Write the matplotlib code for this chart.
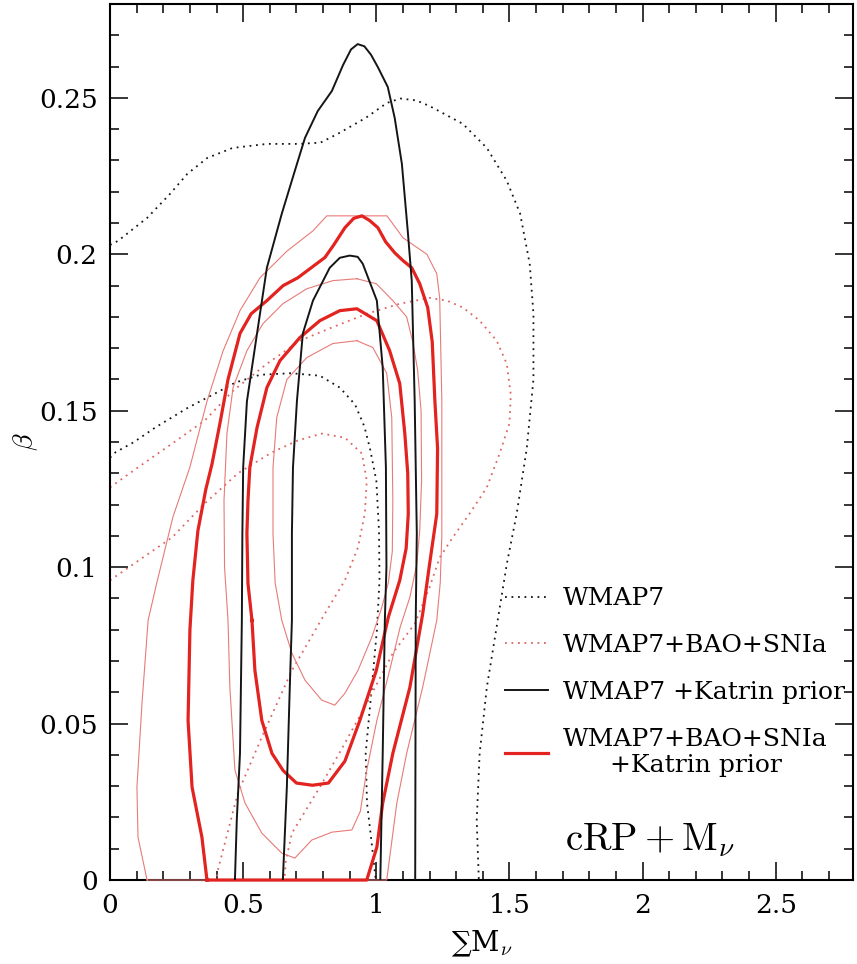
"""Confidence contours: beta vs sum of neutrino masses."""
import matplotlib
matplotlib.use('Agg')
import matplotlib.pyplot as plt
from matplotlib.ticker import MultipleLocator

plt.rcParams['font.family'] = ['DejaVu Serif']
plt.rcParams['mathtext.fontset'] = 'cm'

# contour traces, (sum M_nu, beta)
wmap7_outer = [(0.0, 0.203), (0.03, 0.2043), (0.14, 0.2117), (0.225, 0.2193), (0.29, 0.2257),
               (0.365, 0.2308), (0.46, 0.234), (0.59, 0.2353), (0.71, 0.2353), (0.79, 0.2357),
               (0.855, 0.2385), (0.96, 0.2436), (1.04, 0.2484), (1.09, 0.2498), (1.15, 0.2492),
               (1.2, 0.2474), (1.325, 0.2417), (1.415, 0.234), (1.49, 0.2235), (1.54, 0.213),
               (1.576, 0.197), (1.59, 0.181), (1.59, 0.16), (1.565, 0.138), (1.527, 0.117),
               (1.49, 0.101), (1.452, 0.081), (1.415, 0.0616), (1.388, 0.0405), (1.377, 0.019),
               (1.385, 0.0)]
wmap7_inner = [(0.0, 0.135), (0.02, 0.1367), (0.09, 0.14), (0.169, 0.1446), (0.293, 0.151),
               (0.394, 0.1555), (0.47, 0.159), (0.563, 0.1615), (0.68, 0.162), (0.788, 0.1612),
               (0.863, 0.1574), (0.92, 0.152), (0.955, 0.145), (0.976, 0.138), (1.0, 0.1277),
               (1.01, 0.1117), (1.012, 0.0958), (1.002, 0.0798), (0.983, 0.0616), (0.96, 0.0405),
               (0.965, 0.0246), (0.98, 0.0137), (0.998, 0.0)]

bao_outer = [(0.0, 0.1255), (0.105, 0.1319), (0.233, 0.1395), (0.356, 0.1469), (0.462, 0.1564),
             (0.589, 0.165), (0.713, 0.1724), (0.83, 0.1765), (0.964, 0.181), (1.088, 0.1842),
             (1.2, 0.1861), (1.265, 0.1852), (1.325, 0.183), (1.388, 0.1788), (1.452, 0.1724),
             (1.49, 0.165), (1.505, 0.155), (1.5, 0.146), (1.463, 0.1363), (1.415, 0.1255),
             (1.351, 0.1172), (1.287, 0.1095), (1.238, 0.1031), (1.2, 0.0936), (1.145, 0.082),
             (1.062, 0.0725), (0.964, 0.0565), (0.874, 0.0425), (0.788, 0.0297), (0.713, 0.0192),
             (0.683, 0.015), (0.66, 0.006), (0.655, 0.0)]
bao_inner = [(0.0, 0.0958), (0.105, 0.102), (0.233, 0.1095), (0.356, 0.1204), (0.48, 0.13),
             (0.608, 0.1367), (0.705, 0.1405), (0.795, 0.1427), (0.882, 0.1414), (0.946, 0.1363),
             (0.964, 0.1277), (0.957, 0.1172), (0.931, 0.1063), (0.882, 0.0958), (0.807, 0.0852),
             (0.683, 0.067), (0.57, 0.0457), (0.48, 0.0278), (0.405, 0.0032), (0.4, 0.0)]

katrin_outer = [(0.469, 0.0), (0.476, 0.0192), (0.488, 0.0405), (0.495, 0.083), (0.497, 0.111),
                (0.5, 0.132), (0.514, 0.153), (0.552, 0.1747), (0.589, 0.1957), (0.645, 0.213),
                (0.694, 0.2267), (0.732, 0.2372), (0.78, 0.2458), (0.833, 0.2522), (0.875, 0.2605),
                (0.905, 0.2655), (0.93, 0.2672), (0.955, 0.2665), (0.98, 0.2638), (1.006, 0.2598),
                (1.043, 0.2535), (1.069, 0.2436), (1.096, 0.2289), (1.118, 0.2075), (1.133, 0.1916),
                (1.144, 0.1533), (1.152, 0.1108), (1.148, 0.083), (1.146, 0.0)]
katrin_inner = [(0.649, 0.0), (0.664, 0.0297), (0.675, 0.0616), (0.683, 0.083), (0.683, 0.1108),
                (0.687, 0.1319), (0.702, 0.1533), (0.724, 0.1747), (0.762, 0.1852), (0.825, 0.1957),
                (0.863, 0.1989), (0.9, 0.1996), (0.93, 0.1992), (0.949, 0.197), (1.002, 0.1852),
                (1.024, 0.1638), (1.036, 0.1319), (1.038, 0.1), (1.032, 0.083), (1.024, 0.0405),
                (1.015, 0.0)]

# WMAP7+BAO+SNIa+Katrin: thick = main levels, thin = extra levels
all_thick_outer = [(0.364, 0.0), (0.345, 0.0137), (0.308, 0.0297), (0.293, 0.051), (0.3, 0.08),
                   (0.311, 0.0958), (0.33, 0.1117), (0.36, 0.125), (0.383, 0.133), (0.415, 0.147),
                   (0.443, 0.16), (0.488, 0.1747), (0.53, 0.181), (0.589, 0.1852), (0.65, 0.19),
                   (0.705, 0.1925), (0.76, 0.196), (0.807, 0.199), (0.84, 0.203), (0.882, 0.2085),
                   (0.915, 0.2115), (0.946, 0.2123), (0.975, 0.2108), (1.006, 0.2085), (1.035, 0.204),
                   (1.069, 0.2005), (1.1, 0.198), (1.133, 0.1957), (1.163, 0.1906), (1.193, 0.183),
                   (1.21, 0.172), (1.22, 0.153), (1.23, 0.138), (1.227, 0.117), (1.2, 0.101),
                   (1.174, 0.085), (1.126, 0.0616), (1.062, 0.0405), (1.024, 0.0246), (1.002, 0.0105),
                   (0.964, 0.0)]
all_thick_inner = [(0.533, 0.083), (0.518, 0.0948), (0.514, 0.1108), (0.518, 0.1213), (0.525, 0.1319),
                   (0.552, 0.1446), (0.589, 0.1574), (0.638, 0.166), (0.713, 0.1734), (0.788, 0.1788),
                   (0.863, 0.182), (0.927, 0.1826), (1.002, 0.1788), (1.05, 0.1692), (1.088, 0.1587),
                   (1.107, 0.1427), (1.118, 0.13), (1.12, 0.117), (1.112, 0.106), (1.088, 0.0958),
                   (1.045, 0.084), (1.0, 0.067), (0.938, 0.051), (0.882, 0.038), (0.82, 0.031),
                   (0.76, 0.0303), (0.7, 0.031), (0.65, 0.035), (0.608, 0.0405), (0.57, 0.051),
                   (0.544, 0.067)]
all_thin_1 = [(0.139, 0.0), (0.105, 0.0137), (0.101, 0.0297), (0.12, 0.0565), (0.143, 0.083),
              (0.175, 0.0948), (0.236, 0.116), (0.3, 0.132), (0.364, 0.153), (0.424, 0.169),
              (0.488, 0.182), (0.563, 0.1925), (0.664, 0.201), (0.762, 0.2075), (0.814, 0.2123),
              (1.04, 0.2123), (1.1, 0.2053), (1.19, 0.2), (1.227, 0.1938), (1.238, 0.186),
              (1.246, 0.1533), (1.246, 0.11), (1.24, 0.095), (1.227, 0.083), (1.174, 0.0616),
              (1.114, 0.0405), (1.077, 0.0246), (1.039, 0.0)]
all_thin_2 = [(0.927, 0.1922), (0.837, 0.1916), (0.739, 0.189), (0.649, 0.1842), (0.574, 0.1778),
              (0.514, 0.1692), (0.462, 0.1574), (0.439, 0.1427), (0.428, 0.1213), (0.43, 0.1),
              (0.443, 0.083), (0.45, 0.0616), (0.469, 0.0351), (0.507, 0.0246), (0.57, 0.015),
              (0.645, 0.0086), (0.694, 0.007), (0.758, 0.0128), (0.833, 0.0153), (0.908, 0.016),
              (0.94, 0.022), (0.964, 0.0351), (1.002, 0.051), (1.05, 0.067), (1.09, 0.081),
              (1.126, 0.0904), (1.152, 0.101), (1.163, 0.1117), (1.17, 0.1277), (1.168, 0.15),
              (1.155, 0.163), (1.137, 0.172), (1.114, 0.18), (1.062, 0.1852), (1.0, 0.1906)]
all_thin_3 = [(0.927, 0.1724), (0.837, 0.1715), (0.739, 0.167), (0.664, 0.16), (0.626, 0.1478),
              (0.612, 0.1319), (0.612, 0.1108), (0.62, 0.095), (0.645, 0.083), (0.683, 0.0725),
              (0.732, 0.0639), (0.795, 0.0575), (0.844, 0.0559), (0.882, 0.0597), (0.931, 0.067),
              (0.983, 0.0776), (1.02, 0.087), (1.045, 0.095), (1.06, 0.105), (1.062, 0.1213),
              (1.058, 0.1478), (1.039, 0.162), (0.987, 0.1702)]

labels = ["WMAP7", "WMAP7+BAO+SNIa", "WMAP7 +Katrin prior", "WMAP7+BAO+SNIa\n+Katrin prior"]

BLACK = '#151515'
RED = '#e2231f'
RED_THIN = '#e77b78'
RED_DOT = '#dc6562'
DOTS = (0, (1, 2.6))


def trace(ax, pts, closed=False, **kw):
    xs = [p[0] for p in pts]
    ys = [p[1] for p in pts]
    if closed:
        xs.append(xs[0])
        ys.append(ys[0])
    return ax.plot(xs, ys, solid_joinstyle='round', **kw)[0]


fig = plt.figure(figsize=(8.57, 9.64), dpi=100)
ax = fig.add_axes([0.1284, 0.0871, 0.8669, 0.9087])

h1 = trace(ax, wmap7_outer, color=BLACK, lw=1.3, ls=DOTS)
trace(ax, wmap7_inner, color=BLACK, lw=1.3, ls=DOTS)
h2 = trace(ax, bao_outer, color=RED_DOT, lw=1.3, ls=DOTS)
trace(ax, bao_inner, color=RED_DOT, lw=1.3, ls=DOTS)

for pts in (all_thin_1, all_thin_2, all_thin_3):
    trace(ax, pts, closed=True, color=RED_THIN, lw=0.8, clip_on=False, zorder=3)
h4 = trace(ax, all_thick_outer, closed=True, color=RED, lw=2.3, clip_on=False, zorder=3)
trace(ax, all_thick_inner, closed=True, color=RED, lw=2.3, zorder=3)

h3 = trace(ax, katrin_outer, color=BLACK, lw=1.4, zorder=4)
trace(ax, katrin_inner, color=BLACK, lw=1.4, zorder=4)

ax.set_xlim(0, 2.79)
ax.set_ylim(0, 0.28)
ax.xaxis.set_major_locator(MultipleLocator(0.5))
ax.xaxis.set_minor_locator(MultipleLocator(0.1))
ax.yaxis.set_major_locator(MultipleLocator(0.05))
ax.yaxis.set_minor_locator(MultipleLocator(0.01))
ax.set_xticks([0, 0.5, 1, 1.5, 2, 2.5])
ax.set_xticklabels(['0', '0.5', '1', '1.5', '2', '2.5'])
ax.set_yticks([0, 0.05, 0.1, 0.15, 0.2, 0.25])
ax.set_yticklabels(['0', '0.05', '0.1', '0.15', '0.2', '0.25'])
ax.tick_params(which='both', direction='in', top=True, right=True, width=1.1, labelsize=19)
ax.tick_params(which='major', length=13, pad=9)
ax.tick_params(which='minor', length=6.5)
for s in ax.spines.values():
    s.set_linewidth(1.5)

ax.set_xlabel('∑M$_{\\nu}$', fontsize=20, labelpad=8)
ax.set_ylabel(r'$\beta$', fontsize=20, labelpad=-1)

leg = ax.legend([h1, h2, h3, h4], labels, loc='upper left', bbox_to_anchor=(0.532, 0.334),
                frameon=False, borderaxespad=0, borderpad=0, handlelength=1.72,
                handletextpad=0.6, labelspacing=0.95, prop={'family': 'DejaVu Serif', 'size': 18})
leg.get_texts()[3].set_multialignment('center')

ax.text(0.612, 0.034, r'$\mathrm{cRP+M}_{\nu}$', transform=ax.transAxes,
        fontsize=28, va='baseline')

fig.savefig('out.png', dpi=100)
